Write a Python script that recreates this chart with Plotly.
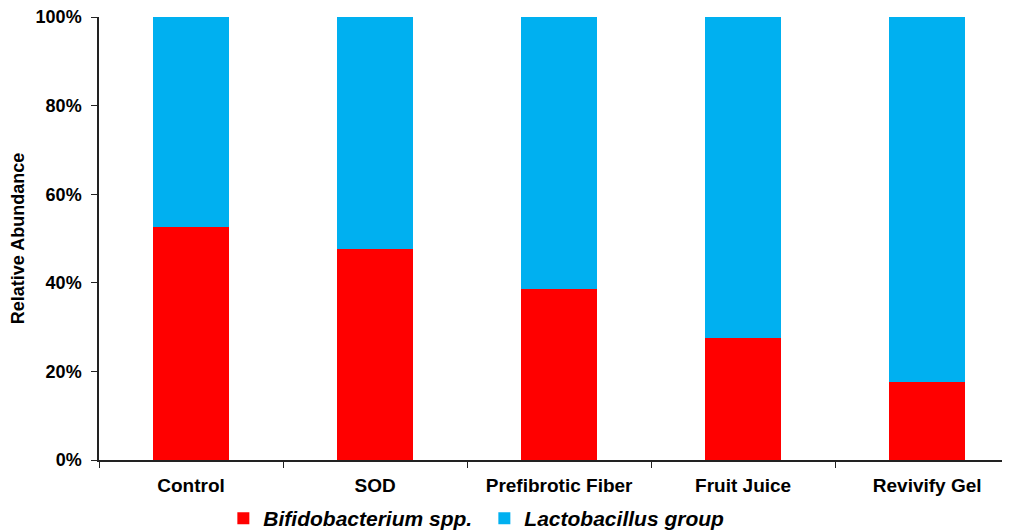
import plotly.graph_objects as go

categories = ["Control", "SOD", "Prefibrotic Fiber", "Fruit Juice", "Revivify Gel"]
bifido = [52.7, 47.6, 38.5, 27.5, 17.6]
lacto = [100 - v for v in bifido]
tick_vals = [0, 20, 40, 60, 80, 100]

FONT = "Liberation Sans, Arial, sans-serif"

fig = go.Figure()
fig.add_trace(go.Bar(x=categories, y=bifido, name="<b><i>Bifidobacterium spp.</i></b>",
                     marker=dict(color="#FF0000", line=dict(width=0)), width=0.41))
fig.add_trace(go.Bar(x=categories, y=lacto, name="<b><i>Lactobacillus group</i></b>",
                     marker=dict(color="#00B0F0", line=dict(width=0)), width=0.41))

fig.update_layout(
    barmode="stack",
    width=1010, height=532,
    margin=dict(l=91, r=8, t=9, b=80, autoexpand=False),
    plot_bgcolor="white", paper_bgcolor="white",
    font=dict(family=FONT, color="black"),
    legend=dict(orientation="h", x=0.423, xanchor="center", y=-0.086, yanchor="top",
                font=dict(size=21, family=FONT), itemwidth=30, traceorder="normal",
                entrywidth=216, tracegroupgap=0),
    xaxis=dict(type="category", range=[-0.5, 4.45], showline=True, linecolor="#222", linewidth=1.5,
               ticks="outside", tickson="boundaries", ticklen=6, tickcolor="#222",
               tickfont=dict(size=19, family=FONT), showgrid=False, automargin=False,
               ticklabelstandoff=7, ticklabeloverflow="allow"),
    yaxis=dict(range=[0, 100], tickvals=tick_vals, ticktext=[f"<b>{v}%</b>" for v in tick_vals],
               showline=True, linecolor="#222", linewidth=1.5, ticks="outside", ticklen=6,
               tickcolor="#222", tickfont=dict(size=18, family=FONT), showgrid=False,
               zeroline=False, automargin=False, ticklabelstandoff=6, ticklabeloverflow="allow",
               title=dict(text="<b>Relative Abundance</b>", font=dict(size=18, family=FONT),
                          standoff=10)),
)
fig.update_xaxes(tickvals=categories, ticktext=[f"<b>{c}</b>" for c in categories])

fig.write_html("out.html")
